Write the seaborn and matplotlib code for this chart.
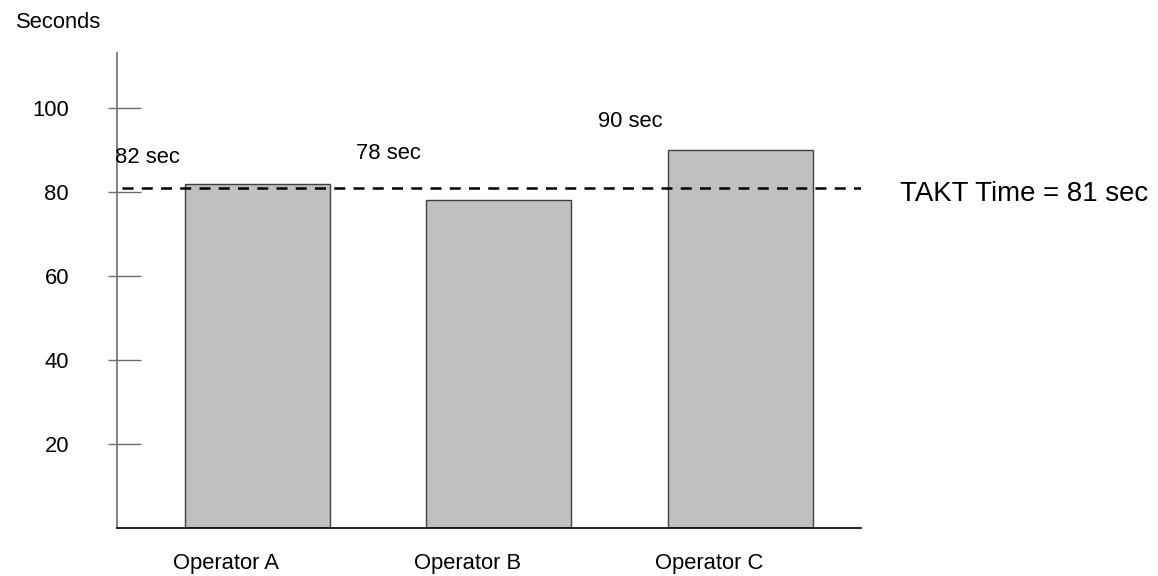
import matplotlib
matplotlib.use("Agg")
import matplotlib.pyplot as plt
from matplotlib.transforms import ScaledTranslation, blended_transform_factory
import pandas as pd
import seaborn as sns

# Cycle time per operator against the TAKT time
operators = ["Operator A", "Operator B", "Operator C"]
cycle_seconds = [82, 78, 90]
takt_seconds = 81
y_ticks = [20, 40, 60, 80, 100]

sns.set_theme(style="white")
plt.rcParams["font.family"] = ["Liberation Sans", "DejaVu Sans"]

DPI = 100
fig = plt.figure(figsize=(11.58, 5.76), dpi=DPI)
ax = fig.add_axes([117 / 1158, 48 / 576, 744 / 1158, 475 / 576])

df = pd.DataFrame({"operator": operators, "seconds": cycle_seconds})
sns.barplot(data=df, x="operator", y="seconds", ax=ax, color="#c0c0c0",
            saturation=1, width=0.6, edgecolor="#404040", linewidth=1.0)

ax.set_xlim(-0.58, 2.5)
ax.set_ylim(0, 113.1)
ax.set_xlabel("")
ax.set_ylabel("")

# Spines: grey value axis, black category axis
for side in ("top", "right"):
    ax.spines[side].set_visible(False)
ax.spines["left"].set_color("#6e6e6e")
ax.spines["left"].set_linewidth(1.2)
ax.spines["bottom"].set_color("black")
ax.spines["bottom"].set_linewidth(1.2)

# Y ticks crossing the axis: long inward part, short outward part
ax.set_yticks(y_ticks)
ax.set_yticks(y_ticks, minor=True)
ax.yaxis.remove_overlapping_locs = False
ax.tick_params(axis="y", which="major", direction="in", length=17.3, width=1.0,
               color="#6e6e6e", pad=34.6, labelsize=15.8, labelcolor="black",
               left=True)
ax.tick_params(axis="y", which="minor", direction="out", length=6.5, width=1.0,
               color="#6e6e6e", left=True, labelleft=False)

ax.tick_params(axis="x", length=0, pad=18, labelsize=15.8, labelcolor="black")
shift = ScaledTranslation(-31 / DPI, 0, fig.dpi_scale_trans)
for lbl in ax.get_xticklabels():
    lbl.set_transform(lbl.get_transform() + shift)

# TAKT reference line
ax.axhline(takt_seconds, xmin=0.007, xmax=1.0, color="black", lw=1.8,
           dashes=(4.4, 3.3))
trans = blended_transform_factory(ax.transAxes, ax.transData)
ax.annotate(f"TAKT Time = {takt_seconds} sec", xy=(1.0, takt_seconds),
            xycoords=trans, xytext=(28, -9.5), textcoords="offset points",
            ha="left", va="baseline", fontsize=19.9, color="black",
            annotation_clip=False)

# Cycle time labels, set above and left of each bar
label_lift = [14.8, 29.8, 16.6]
for i, (val, lift) in enumerate(zip(cycle_seconds, label_lift)):
    ax.annotate(f"{val} sec", xy=(i - 0.455, val), xycoords="data",
                xytext=(0, lift), textcoords="offset points",
                ha="center", va="baseline", fontsize=15.8, color="black",
                annotation_clip=False)

fig.text(16 / 1158, 1 - 28 / 576, "Seconds", ha="left", va="baseline",
         fontsize=15.8, color="black")

fig.savefig("out.png", dpi=DPI)
